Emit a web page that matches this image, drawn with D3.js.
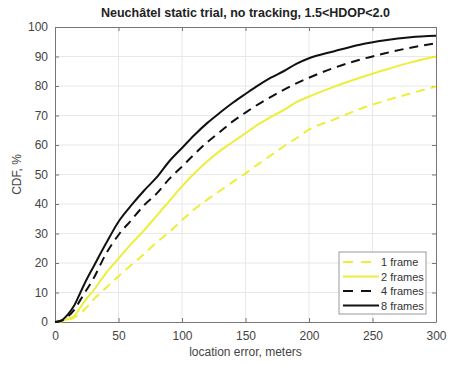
<!DOCTYPE html>
<html>
<head>
<meta charset="utf-8">
<script src="https://cdn.jsdelivr.net/npm/d3@7"></script>
<style>
  body { margin: 0; background: #fff; }
  svg { font-family: Arial, "Liberation Sans", sans-serif; }
</style>
</head>
<body>
<div id="chart"></div>
<script>
// Distance grid (meters) and CDF values (%)
const errors = [0, 5, 10, 15, 20, 25, 30, 40, 50, 60, 70, 80, 90, 100, 110, 120, 130, 140, 150,
    160, 170, 180, 190, 200, 220, 240, 260, 280, 300];

const frames1 = [0, 0.2, 0.6, 1.5, 3, 5, 7.5, 11.5, 15.5, 19.3, 23, 27, 30.5, 34.5, 38.3, 41.5, 44.5,
    47.5, 50.4, 53.5, 56.5, 59.5, 62.3, 65.2, 68.7, 72.2, 75, 77.5, 79.8];
const frames2 = [0, 0.3, 1, 2, 5, 8, 10.5, 16.5, 21.5, 26.5, 31, 36, 41, 46, 50.5, 54.5, 58, 61, 64,
    67, 69.5, 71.8, 74.5, 76.4, 79.8, 82.8, 85.5, 88, 90];
const frames4 = [0, 0.4, 1.8, 4, 7.5, 11, 14.5, 23, 29.5, 34.5, 39.5, 43.5, 48.5, 52.7, 57, 61, 64.5,
    68, 71, 73.8, 76.3, 78.7, 80.9, 82.8, 86.2, 88.9, 91.1, 93, 94.5];
const frames8 = [0, 0.5, 2.5, 5.5, 10, 14.5, 18.5, 26.5, 34, 39.5, 44.5, 49, 54.5, 59, 63.5, 67.5,
    71, 74.3, 77.3, 80.2, 82.8, 85, 87.5, 89.4, 91.8, 94, 95.5, 96.5, 97];

const seriesNames = ["1 frame", "2 frames", "4 frames", "8 frames"];
const xTicks = [0, 50, 100, 150, 200, 250, 300];
const yTicks = [0, 10, 20, 30, 40, 50, 60, 70, 80, 90, 100];

const series = [
    { name: seriesNames[0], values: frames1, color: "#eeee3a", dash: "9,6" },
    { name: seriesNames[1], values: frames2, color: "#eeee3a", dash: null },
    { name: seriesNames[2], values: frames4, color: "#111", dash: "9,6" },
    { name: seriesNames[3], values: frames8, color: "#111", dash: null },
];

const W = 449, H = 365;
const margin = { top: 27, right: 13, bottom: 43, left: 55 };
const width = W - margin.left - margin.right,
    height = H - margin.top - margin.bottom;

const svg = d3.select("#chart").append("svg")
    .attr("width", W)
    .attr("height", H);

const g = svg.append("g")
    .attr("transform", `translate(${margin.left},${margin.top})`);

const x = d3.scaleLinear().domain([0, 300]).range([0, width]);
const y = d3.scaleLinear().domain([0, 100]).range([height, 0]);

// Grid
g.append("g").selectAll("line")
    .data(xTicks.slice(1, -1))
    .join("line")
    .attr("x1", d => x(d)).attr("x2", d => x(d))
    .attr("y1", 0).attr("y2", height)
    .attr("stroke", "#e8e8e8");
g.append("g").selectAll("line")
    .data(yTicks.slice(1, -1))
    .join("line")
    .attr("y1", d => y(d)).attr("y2", d => y(d))
    .attr("x1", 0).attr("x2", width)
    .attr("stroke", "#e8e8e8");

// Axes (MATLAB style: inward ticks, box)
g.append("g")
    .attr("transform", `translate(0,${height})`)
    .call(d3.axisBottom(x).tickValues(xTicks).tickSizeInner(-4).tickSizeOuter(0).tickPadding(9));
g.append("g")
    .call(d3.axisLeft(y).tickValues(yTicks).tickSizeInner(-4).tickSizeOuter(0).tickPadding(7));
g.append("g")
    .attr("transform", `translate(${width},0)`)
    .call(d3.axisRight(y).tickValues(yTicks).tickSizeInner(-4).tickSizeOuter(0).tickFormat(""));
g.append("g")
    .call(d3.axisTop(x).tickValues(xTicks).tickSizeInner(-4).tickSizeOuter(0).tickFormat(""));

g.selectAll(".domain").attr("stroke", "#777");
g.selectAll(".tick line").attr("stroke", "#777");
g.selectAll(".tick text").attr("fill", "#444").style("font-size", "12px");

// Lines
const line = d3.line()
    .x((d, i) => x(errors[i]))
    .y(d => y(d))
    .curve(d3.curveMonotoneX);

g.selectAll(".series")
    .data(series)
    .join("path")
    .attr("class", "series")
    .attr("fill", "none")
    .attr("stroke", d => d.color)
    .attr("stroke-width", 2)
    .attr("stroke-dasharray", d => d.dash)
    .attr("d", d => line(d.values));

// Title and labels
svg.append("text")
    .attr("x", margin.left + width / 2)
    .attr("y", 17)
    .attr("text-anchor", "middle")
    .attr("fill", "#222")
    .style("font-size", "12.5px")
    .style("font-weight", "bold")
    .text("Neuchâtel static trial, no tracking, 1.5<HDOP<2.0");

svg.append("text")
    .attr("x", margin.left + width / 2)
    .attr("y", 356)
    .attr("text-anchor", "middle")
    .attr("fill", "#444")
    .style("font-size", "12px")
    .text("location error, meters");

svg.append("text")
    .attr("transform", "rotate(-90)")
    .attr("x", -(margin.top + height / 2))
    .attr("y", 21)
    .attr("text-anchor", "middle")
    .attr("fill", "#444")
    .style("font-size", "12px")
    .text("CDF, %");

// Legend
const legend = svg.append("g").attr("transform", "translate(339,252)");
legend.append("rect")
    .attr("width", 87).attr("height", 62)
    .attr("fill", "#fff")
    .attr("stroke", "#999");
const item = legend.selectAll(".item")
    .data(series)
    .join("g")
    .attr("transform", (d, i) => `translate(0,${10 + i * 14.5})`);
item.append("line")
    .attr("x1", 4).attr("x2", 40)
    .attr("stroke", d => d.color)
    .attr("stroke-width", 2)
    .attr("stroke-dasharray", d => d.dash ? "10,8" : null);
item.append("text")
    .attr("x", 42).attr("y", 4)
    .attr("fill", "#333")
    .style("font-size", "11px")
    .text(d => d.name);
</script>
</body>
</html>
